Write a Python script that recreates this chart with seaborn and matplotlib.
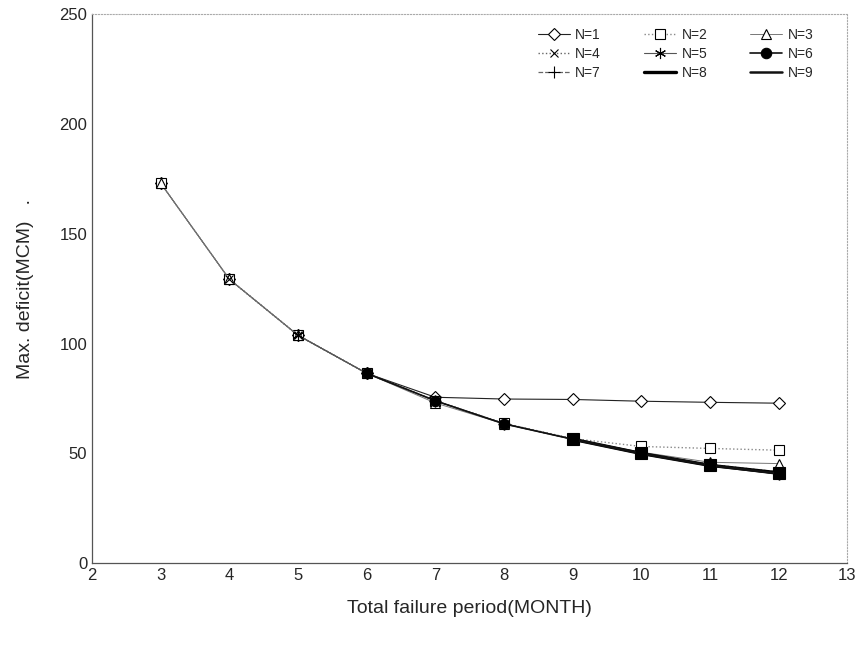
import pandas as pd
import matplotlib
matplotlib.use("Agg")
import matplotlib.pyplot as plt
from matplotlib.lines import Line2D
import seaborn as sns

sns.set_theme(style="white")
plt.rcParams['font.family'] = ['Liberation Sans', 'DejaVu Sans']

periods = [3, 4, 5, 6, 7, 8, 9, 10, 11, 12]
# None = no value for that period (series starts later)
n1 = [173, 129.3, 103.8, 86.5, 75.6, 74.8, 74.6, 73.8, 73.3, 72.9]
n2 = [173, 129.3, 103.8, 86.5, 74.0, 63.7, 56.8, 53.2, 52.3, 51.5]
n3 = [173, 129.3, 103.8, 86.5, 73.0, 63.5, 56.5, 50.6, 46.0, 45.4]
n4 = [None, 129.3, 103.8, 86.5, 74.0, 63.6, 56.6, 50.3, 45.0, 41.6]
n5 = [None, None, 103.8, 86.5, 74.0, 63.6, 56.5, 50.1, 44.7, 41.1]
n6 = [None, None, None, 86.5, 74.0, 63.5, 56.5, 50.0, 44.6, 40.8]
n7 = [None, None, None, None, 74.0, 63.5, 56.5, 50.0, 44.6, 40.8]
n8 = [None, None, None, None, None, None, 56.5, 50.0, 44.6, 41.2]
n9 = [None, None, None, None, None, None, 56.5, 50.0, 44.6, 40.8]

series = {'N=1': n1, 'N=2': n2, 'N=3': n3, 'N=4': n4, 'N=5': n5,
          'N=6': n6, 'N=7': n7, 'N=8': n8, 'N=9': n9}

styles = {
    'N=1': dict(ls='-', lw=0.8, c='#222222', marker='D', ms=6.5, mfc='white', z=3),
    'N=2': dict(ls=':', lw=1.0, c='#888888', marker='s', ms=7, mfc='white', z=3),
    'N=3': dict(ls='-', lw=0.7, c='#777777', marker='^', ms=7, mfc='white', z=3),
    'N=4': dict(ls=':', lw=1.0, c='#666666', marker='x', ms=6, mfc='white', z=3),
    'N=5': dict(ls='-', lw=0.8, c='#555555', marker=(6, 2, 0), ms=8, mfc='white', z=3),
    'N=6': dict(ls='-', lw=1.2, c='#111111', marker='o', ms=7.5, mfc='black', z=5),
    'N=7': dict(ls='--', lw=0.9, c='#666666', marker='+', ms=8, mfc='white', z=3),
    'N=8': dict(ls='-', lw=2.4, c='#000000', marker='s', ms=8, mfc='black', z=4),
    'N=9': dict(ls='-', lw=1.8, c='#111111', marker=None, ms=0, mfc='black', z=4),
}

rows = [(name, p, v) for name, vals in series.items()
        for p, v in zip(periods, vals) if v is not None]
df = pd.DataFrame(rows, columns=['N', 'period', 'deficit'])

fig = plt.figure(figsize=(8.61, 6.46), dpi=100)
ax = fig.add_axes([0.107, 0.128, 0.877, 0.85])

for name in series:
    st = styles[name]
    sub = df[df['N'] == name]
    sns.lineplot(data=sub, x='period', y='deficit', ax=ax,
                 linestyle=st['ls'], linewidth=st['lw'], color=st['c'],
                 marker=st['marker'], markersize=st['ms'],
                 markerfacecolor=st['mfc'], markeredgecolor='black',
                 markeredgewidth=0.8, zorder=st['z'])

ax.set_xlim(2, 13)
ax.set_ylim(0, 250)
ax.set_xticks(range(2, 14))
ax.set_yticks([0, 50, 100, 150, 200, 250])
ax.tick_params(axis='both', labelsize=12, direction='in', length=3, color='#444444')
ax.set_xlabel('Total failure period(MONTH)', fontsize=14, labelpad=12)
ax.set_ylabel('Max. deficit(MCM)   .', fontsize=14, labelpad=18)

for side in ['left', 'bottom']:
    ax.spines[side].set_color('#555555')
    ax.spines[side].set_linewidth(0.9)
for side in ['top', 'right']:
    ax.spines[side].set_color('#aaaaaa')
    ax.spines[side].set_linestyle(':')
    ax.spines[side].set_linewidth(0.8)

# legend proxies: N=8 and N=9 are shown as plain lines
order = ['N=1', 'N=4', 'N=7', 'N=2', 'N=5', 'N=8', 'N=3', 'N=6', 'N=9']
proxies = []
for k in order:
    st = styles[k]
    mk = None if k in ('N=8', 'N=9') else st['marker']
    proxies.append(Line2D([], [], linestyle=st['ls'], linewidth=st['lw'], color=st['c'],
                          marker=mk, markersize=st['ms'], markerfacecolor=st['mfc'],
                          markeredgecolor='black', markeredgewidth=0.8))
ax.legend(proxies, order, ncol=3, frameon=False,
          loc='upper right', bbox_to_anchor=(0.972, 0.997), fontsize=10,
          handlelength=2.3, columnspacing=3.1, labelspacing=0.35,
          handletextpad=0.4)

fig.savefig('out.png', dpi=100)
